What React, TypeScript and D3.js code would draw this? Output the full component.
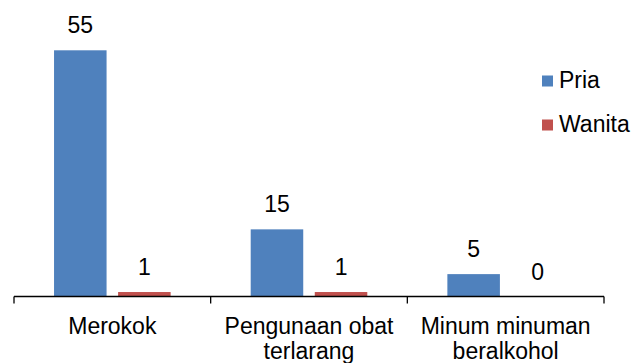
import React from "react";
import * as d3 from "d3";

const categories = ["Merokok", "Pengunaan obat terlarang", "Minum minuman beralkohol"];
const categoryLines = [["Merokok"], ["Pengunaan obat", "terlarang"], ["Minum minuman", "beralkohol"]];
const seriesNames = ["Pria", "Wanita"];
const pria = [55, 15, 5];
const wanita = [1, 1, 0];
const colors = ["#4F81BD", "#C0504D"];

export default function App() {
  const W = 642, H = 363;
  const left = 14, right = 604, axisY = 296.5;
  const x = d3.scaleBand<string>().domain(categories).range([left, right]).paddingInner(0).paddingOuter(0);
  const inner = d3.scaleBand<string>().domain(seriesNames).range([0, x.bandwidth()]).paddingInner(0.18).paddingOuter(0.625);
  const y = d3.scaleLinear().domain([0, 55]).range([axisY, 50.3]);
  const series = [pria, wanita];
  const font = "'Liberation Sans', Arial, sans-serif";
  const fs = 23;
  const ticks = [...categories.map((c) => x(c)!), right];
  return (
    <svg width={W} height={H} style={{ position: "absolute", left: 0, top: 0 }}>
      <rect width={W} height={H} fill="#fff" />
      {series.map((vals, si) =>
        categories.map((c, ci) => {
          const bx = x(c)! + inner(seriesNames[si])!;
          const by = y(vals[ci]);
          return (
            <g key={`${si}-${ci}`}>
              {vals[ci] > 0 && (
                <rect x={bx} y={by} width={inner.bandwidth()} height={axisY - by} fill={colors[si]} />
              )}
              <text x={bx + inner.bandwidth() / 2} y={by - 17} textAnchor="middle" fontFamily={font} fontSize={fs} fill="#000">
                {vals[ci]}
              </text>
            </g>
          );
        })
      )}
      <line x1={left} x2={right} y1={axisY} y2={axisY} stroke="#000" strokeWidth={1.3} />
      {ticks.map((t, i) => (
        <line key={i} x1={t} x2={t} y1={axisY} y2={axisY + 7} stroke="#000" strokeWidth={1.3} />
      ))}
      {categories.map((c, ci) => (
        <text key={c} textAnchor="middle" fontFamily={font} fontSize={fs} fill="#000">
          {categoryLines[ci].map((l, li) => (
            <tspan key={li} x={x(c)! + x.bandwidth() / 2} y={333.5 + li * 25.5}>
              {l}
            </tspan>
          ))}
        </text>
      ))}
      {seriesNames.map((s, si) => (
        <g key={s}>
          <rect x={542} y={75.5 + si * 44} width={11} height={11} fill={colors[si]} />
          <text x={559} y={88 + si * 44} fontFamily={font} fontSize={fs} fill="#000">
            {s}
          </text>
        </g>
      ))}
    </svg>
  );
}
